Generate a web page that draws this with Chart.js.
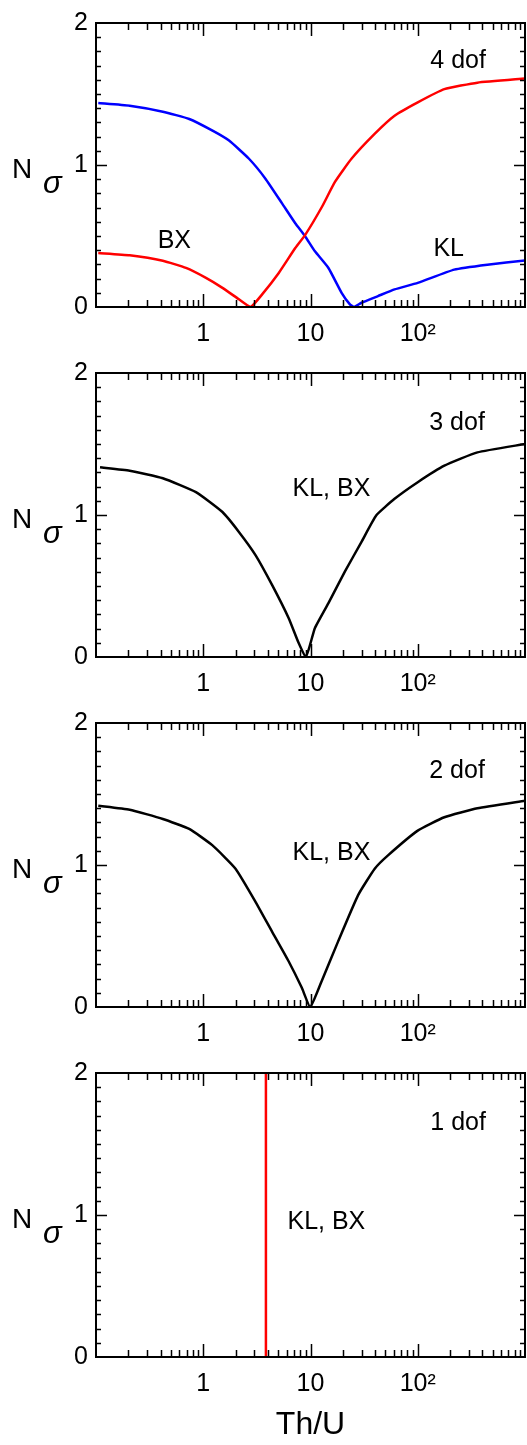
<!DOCTYPE html>
<html>
<head>
<meta charset="utf-8">
<script src="https://cdn.jsdelivr.net/npm/chart.js@4.4.1/dist/chart.umd.min.js"></script>
<style>
  body { margin: 0; background: #fff; }
  #wrap { position: relative; width: 527px; height: 1445px; overflow: hidden; }
  canvas { position: absolute; left: 0; }
</style>
</head>
<body>
<div id="wrap">
  <canvas id="c4" width="527" height="350" style="top:0px"></canvas>
  <canvas id="c3" width="527" height="350" style="top:350px"></canvas>
  <canvas id="c2" width="527" height="350" style="top:700px"></canvas>
  <canvas id="c1" width="527" height="395" style="top:1050px"></canvas>
</div>
<script>
// 4 dof panel
const klX4 = [0.105, 0.206, 0.42, 0.74, 1.22, 1.74, 2.67, 3.80, 5.43, 7.21, 8.93, 11.0, 14.7, 19.5, 23.3, 25.5, 29.9, 42.6, 60.8, 100, 219, 445, 1000];
const klY4 = [1.436, 1.417, 1.375, 1.324, 1.242, 1.172, 1.044, 0.904, 0.73, 0.59, 0.497, 0.392, 0.275, 0.10, 0.019, 0.0, 0.03, 0.077, 0.124, 0.170, 0.263, 0.298, 0.327];
const bxX4 = [0.105, 0.206, 0.42, 0.69, 1.06, 1.51, 2.15, 2.76, 3.54, 5.06, 7.21, 8.93, 12.8, 16.9, 24.1, 39.6, 60.8, 100, 177, 360, 1000];
const bxY4 = [0.38, 0.364, 0.326, 0.275, 0.205, 0.135, 0.054, 0.0, 0.089, 0.24, 0.415, 0.508, 0.706, 0.881, 1.044, 1.219, 1.347, 1.441, 1.534, 1.58, 1.609];

// 3 dof panel (KL and BX coincide)
const x3 = [0.109, 0.206, 0.42, 0.855, 1.51, 2.15, 3.07, 4.38, 6.25, 7.74, 9.05, 9.93, 11.0, 14.7, 20.9, 29.9, 41.1, 60.8, 100, 177, 360, 1000];
const y3 = [1.336, 1.312, 1.259, 1.161, 1.021, 0.881, 0.718, 0.508, 0.275, 0.10, 0.0, 0.089, 0.205, 0.38, 0.601, 0.811, 0.998, 1.114, 1.231, 1.347, 1.441, 1.5];

// 2 dof panel
const x2 = [0.105, 0.206, 0.42, 0.74, 1.22, 2.0, 3.07, 4.38, 6.25, 8.3, 9.93, 12.7, 18.1, 27.8, 39.7, 52.8, 100, 177, 360, 1000];
const y2 = [1.417, 1.389, 1.324, 1.254, 1.138, 0.974, 0.741, 0.531, 0.322, 0.135, 0.0, 0.182, 0.462, 0.788, 0.974, 1.068, 1.242, 1.336, 1.399, 1.453];

// 1 dof panel
const x1 = [3.84, 3.84];
const y1 = [0, 2];

const xTicks = [1, 10, 100];
const xTickLabels = ['1', '10', '10\u00B2'];
const yTicks = [0, 1, 2];

const FONT = '"Liberation Sans", Arial, sans-serif';
Chart.defaults.font.family = FONT;
Chart.defaults.font.size = 25;
Chart.defaults.color = '#000';

function pts(xs, ys) {
  return xs.map((x, i) => ({ x: x, y: ys[i] }));
}

const panelPlugin = {
  id: 'panel',
  afterDraw(chart, args, opts) {
    const ctx = chart.ctx;
    const a = chart.chartArea;
    const xs = chart.scales.x, ys = chart.scales.y;
    ctx.save();
    ctx.strokeStyle = '#000';
    // ticks, inward on all four sides
    ctx.lineWidth = 1.5;
    ctx.beginPath();
    for (let d = 0.1; d < 1000; d *= 10) {
      for (let m = 1; m <= 9; m++) {
        const v = d * m;
        if (v <= 0.1 || v >= 1000) continue;
        const px = Math.round(xs.getPixelForValue(v)) + 0.5;
        const len = m === 1 ? 13 : 7;
        ctx.moveTo(px, a.bottom); ctx.lineTo(px, a.bottom - len);
        ctx.moveTo(px, a.top); ctx.lineTo(px, a.top + len);
      }
    }
    for (let k = 1; k < 20; k++) {
      const py = Math.round(ys.getPixelForValue(k / 10)) + 0.5;
      const len = k === 10 ? 11 : 5;
      ctx.moveTo(a.left, py); ctx.lineTo(a.left + len, py);
      ctx.moveTo(a.right, py); ctx.lineTo(a.right - len, py);
    }
    ctx.stroke();
    // frame
    ctx.lineWidth = 2;
    ctx.strokeRect(a.left, a.top, a.right - a.left, a.bottom - a.top);
    // y title: N sigma
    ctx.fillStyle = '#000';
    ctx.textBaseline = 'alphabetic';
    ctx.textAlign = 'left';
    ctx.font = '28px ' + FONT;
    ctx.fillText('N', 12, a.top + 155);
    ctx.font = 'italic 31px ' + FONT;
    ctx.fillText('\u03C3', 43, a.top + 170);
    // panel notes
    ctx.font = '25px ' + FONT;
    ctx.textBaseline = 'middle';
    (opts.notes || []).forEach(n => {
      ctx.fillText(n.text, xs.getPixelForValue(n.x), ys.getPixelForValue(n.y));
    });
    ctx.restore();
  }
};

function makePanel(id, datasets, notes, last) {
  new Chart(document.getElementById(id), {
    type: 'line',
    data: { datasets: datasets },
    plugins: [panelPlugin],
    options: {
      responsive: false,
      animation: false,
      layout: { padding: { top: 20, right: 2, left: 0, bottom: 0 } },
      plugins: {
        legend: { display: false },
        tooltip: { enabled: false },
        panel: { notes: notes }
      },
      elements: {
        point: { radius: 0 },
        line: { borderWidth: 2.5, tension: 0.15 }
      },
      scales: {
        x: {
          type: 'logarithmic',
          min: 0.1, max: 1000,
          grid: { display: false, drawTicks: false },
          border: { display: false },
          afterBuildTicks: s => { s.ticks = xTicks.map(v => ({ value: v })); },
          afterFit: s => { s.height = last ? 88 : 43; },
          ticks: {
            autoSkip: false, maxRotation: 0, padding: 12,
            callback: v => xTickLabels[xTicks.indexOf(v)]
          },
          title: {
            display: !!last, text: 'Th/U',
            font: { size: 32 }, padding: { top: 0, bottom: 1 }
          }
        },
        y: {
          type: 'linear',
          min: 0, max: 2,
          grid: { display: false, drawTicks: false },
          border: { display: false },
          afterBuildTicks: s => { s.ticks = yTicks.map(v => ({ value: v })); },
          afterFit: s => { s.width = 96; },
          ticks: { padding: 8 }
        }
      }
    }
  });
}

makePanel('c4', [
  { label: 'BX', data: pts(bxX4, bxY4), borderColor: '#ff0000' },
  { label: 'KL', data: pts(klX4, klY4), borderColor: '#0000ff' }
], [
  { text: '4 dof', x: 131, y: 1.73 },
  { text: 'BX', x: 0.376, y: 0.465 },
  { text: 'KL', x: 140, y: 0.41 }
]);

makePanel('c3', [
  { label: 'KL, BX', data: pts(x3, y3), borderColor: '#000000' }
], [
  { text: '3 dof', x: 128, y: 1.65 },
  { text: 'KL, BX', x: 6.8, y: 1.18 }
]);

makePanel('c2', [
  { label: 'KL, BX', data: pts(x2, y2), borderColor: '#000000' }
], [
  { text: '2 dof', x: 128, y: 1.66 },
  { text: 'KL, BX', x: 6.8, y: 1.087 }
]);

makePanel('c1', [
  { label: 'KL, BX', data: pts(x1, y1), borderColor: '#ff0000' }
], [
  { text: '1 dof', x: 131, y: 1.645 },
  { text: 'KL, BX', x: 6.1, y: 0.947 }
], true);
</script>
</body>
</html>
